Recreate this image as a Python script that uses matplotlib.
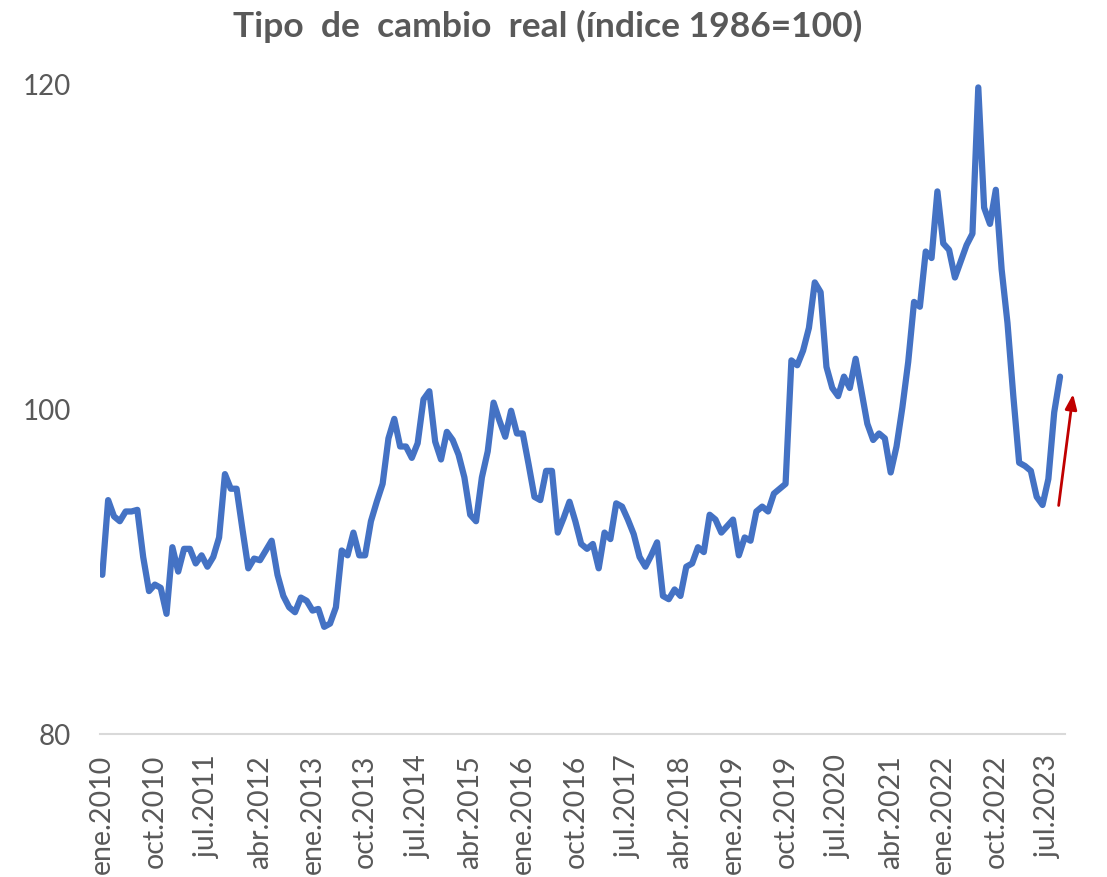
import numpy as np
import matplotlib.pyplot as plt

# tipo de cambio real, índice 1986=100, mensual desde ene.2010
meses = ["ene", "feb", "mar", "abr", "may", "jun",
         "jul", "ago", "sep", "oct", "nov", "dic"]

tcr = [89.8, 94.4, 93.4, 93.1, 93.7, 93.7, 93.8, 90.9, 88.8, 89.2, 89.0, 87.4,
       91.5, 90.0, 91.4, 91.4, 90.5, 91.0, 90.3, 90.9, 92.1, 96.0, 95.1, 95.1,
       92.6, 90.2, 90.8, 90.7, 91.3, 91.9, 89.8, 88.5, 87.8, 87.5, 88.4, 88.2,
       87.6, 87.7, 86.6, 86.8, 87.8, 91.3, 91.0, 92.4, 91.0, 91.0, 93.1, 94.3,
       95.4, 98.2, 99.4, 97.7, 97.7, 97.0, 97.9, 100.6, 101.1, 98.0, 96.9, 98.6,
       98.1, 97.2, 95.8, 93.5, 93.1, 95.8, 97.4, 100.4, 99.3, 98.3, 99.9, 98.5,
       98.5, 96.6, 94.6, 94.4, 96.2, 96.2, 92.4, 93.3, 94.3, 93.1, 91.7, 91.4,
       91.7, 90.2, 92.4, 92.0, 94.2, 94.0, 93.2, 92.3, 90.9, 90.3, 91.0, 91.8,
       88.5, 88.3, 88.9, 88.5, 90.3, 90.5, 91.5, 91.2, 93.5, 93.2, 92.4, 92.8,
       93.2, 91.0, 92.1, 91.9, 93.7, 94.0, 93.7, 94.8, 95.1, 95.4, 103.0, 102.7,
       103.6, 105.0, 107.8, 107.2, 102.6, 101.3, 100.8, 102.0, 101.3, 103.1, 101.1, 99.1,
       98.1, 98.5, 98.2, 96.1, 97.7, 100.1, 102.9, 106.6, 106.3, 109.7, 109.3, 113.4,
       110.2, 109.8, 108.1, 109.1, 110.1, 110.8, 119.8, 112.4, 111.4, 113.5, 108.6, 105.3,
       100.8, 96.7, 96.5, 96.2, 94.6, 94.1, 95.7, 99.8, 102.0]

fechas = [f"{meses[i % 12]}.{2010 + i // 12}" for i in range(len(tcr))]
x = np.arange(len(tcr))

# flecha roja al final (inicio y punta, en unidades de los datos)
flecha_ini = (163.7, 93.9)
flecha_fin = (166.3, 101.1)

plt.rcParams['font.family'] = ['Lato', 'DejaVu Sans']
gris = '#595959'

fig = plt.figure(figsize=(11.07, 8.77), dpi=100)
ax = fig.add_axes([0.0903, 0.163, 0.8715, 0.741])

ax.plot(x, tcr, color='#4472C4', lw=4.5, solid_joinstyle='round', solid_capstyle='round')

ax.annotate("", xy=flecha_fin, xytext=flecha_ini,
            arrowprops=dict(arrowstyle='-|>,head_length=0.9,head_width=0.35',
                            color='#C00000', lw=2), annotation_clip=False)

ax.set_xlim(-0.4, 164.8)
ax.set_ylim(80, 120)
ax.set_yticks([80, 100, 120])

ticks = x[::9]
ax.set_xticks(ticks)
ax.set_xticklabels([fechas[i] for i in ticks], rotation=90, va='top', ha='center')

ax.tick_params(axis='x', length=0, pad=15, labelsize=20.5, labelcolor=gris)
ax.tick_params(axis='y', length=0, pad=21, labelsize=20, labelcolor=gris)

for s in ['top', 'right', 'left']:
    ax.spines[s].set_visible(False)
ax.spines['bottom'].set_color('#D9D9D9')
ax.spines['bottom'].set_linewidth(1.5)

fig.text(0.495, 0.970, "Tipo  de  cambio  real (índice 1986=100)", ha='center', va='center',
         fontsize=25.5, fontweight='bold', color=gris)

fig.savefig("out.png", dpi=100)
